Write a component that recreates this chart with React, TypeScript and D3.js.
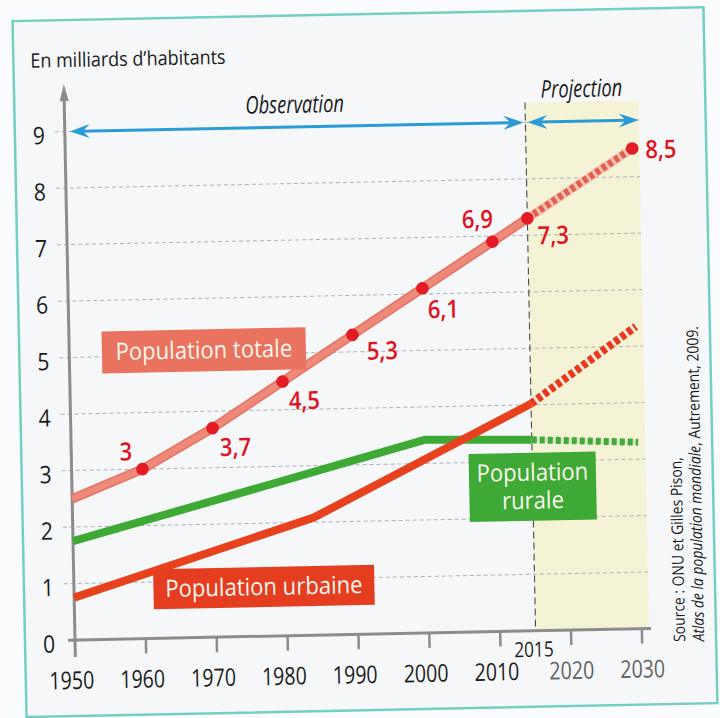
import React from "react";
import * as d3 from "d3";

const WIDTH = 720;
const HEIGHT = 718;
const FONT = "'Open Sans', 'Noto Sans', sans-serif";
const TILT = -1.15; // the scanned page is slightly tilted

// population mondiale, en milliards d'habitants
const totalYears = [1950, 1960, 1970, 1980, 1990, 2000, 2010, 2015];
const totalValues = [2.5, 3.0, 3.7, 4.5, 5.3, 6.1, 6.9, 7.3];
const totalProjYears = [2015, 2030];
const totalProjValues = [7.3, 8.5];

const dotYears = [1960, 1970, 1980, 1990, 2000, 2010, 2015, 2030];
const dotValues = [3.0, 3.7, 4.5, 5.3, 6.1, 6.9, 7.3, 8.5];
const dotLabels = ["3", "3,7", "4,5", "5,3", "6,1", "6,9", "7,3", "8,5"];

const ruralYears = [1950, 2000, 2015];
const ruralValues = [1.75, 3.42, 3.38];
const ruralProjYears = [2015, 2030];
const ruralProjValues = [3.38, 3.3];

const urbanYears = [1950, 1984, 2015];
const urbanValues = [0.75, 2.08, 4.02];
const urbanProjYears = [2015, 2030];
const urbanProjValues = [4.02, 5.35];

const yTicks = [0, 1, 2, 3, 4, 5, 6, 7, 8, 9];
const xTickYears = [1950, 1960, 1970, 1980, 1990, 2000, 2010, 2020, 2030];
const projStart = 2015;
const projEnd = 2031;

// where each value label sits around its dot (px)
const labelPos = [
  { dx: -10, dy: -9, anchor: "end" },
  { dx: 7, dy: 28, anchor: "start" },
  { dx: 6, dy: 28, anchor: "start" },
  { dx: 14, dy: 25, anchor: "start" },
  { dx: 5, dy: 30, anchor: "start" },
  { dx: 1, dy: -14, anchor: "end" },
  { dx: 10, dy: 26, anchor: "start" },
  { dx: 13, dy: 10, anchor: "start" },
];

const x = d3.scaleLinear().domain([1950, 2030]).range([75, 642]);
const y = d3.scaleLinear().domain([0, 9]).range([640, 131.5]);

const line = d3
  .line<[number, number]>()
  .x((d) => x(d[0]))
  .y((d) => y(d[1]));
const pts = (yrs: number[], vals: number[]) =>
  yrs.map((yr, i) => [yr, vals[i]] as [number, number]);

const T = ({ x, y, sx = 1, rot = 0, size, fill = "#1b1b1b", weight, italic, anchor = "start", children }: any) => (
  <text
    transform={`translate(${x},${y})${rot ? ` rotate(${rot})` : ""} scale(${sx},1)`}
    fontSize={size}
    fill={fill}
    fontWeight={weight}
    fontStyle={italic ? "italic" : undefined}
    textAnchor={anchor}
    fontFamily={FONT}
  >
    {children}
  </text>
);

const HEAD = "M0,0 L-20,-7 L-13,0 L-20,7 Z";

const Arrow = ({ x1, x2, yy }: { x1: number; x2: number; yy: number }) => (
  <g fill="#2b9bd6">
    <line x1={x1 + 10} x2={x2 - 10} y1={yy} y2={yy} stroke="#2b9bd6" strokeWidth={3} />
    <path d={HEAD} transform={`translate(${x2},${yy})`} />
    <path d={HEAD} transform={`translate(${x1},${yy}) rotate(180)`} />
  </g>
);

const Box = ({ year, value, w, h, fill, lines }: any) => {
  const cx = x(year);
  const cy = y(value);
  const n = lines.length;
  return (
    <g>
      <rect x={cx - w / 2} y={cy - h / 2} width={w} height={h} fill={fill} />
      {lines.map((t: string, i: number) => (
        <T key={t} x={cx} y={cy + 8 + (i - (n - 1) / 2) * 28} sx={0.92} size={24} fill="#fdf6ee" anchor="middle">
          {t}
        </T>
      ))}
    </g>
  );
};

export default function App() {
  const x0 = x(1950);
  const y0 = y(0);
  const gridTop = y(9.35);
  return (
    <svg
      width={WIDTH}
      height={HEIGHT}
      style={{ position: "absolute", left: 0, top: 0, background: "#fafbfc" }}
    >
      <g transform={`rotate(${TILT} ${x0} ${y0})`}>
        {/* frame */}
        <rect x={25} y={20} width={691} height={696} fill="#f5f7f9" stroke="#74cfc3" strokeWidth={2.5} />

        {/* projection zone */}
        <rect x={x(projStart)} y={gridTop} width={x(projEnd) - x(projStart)} height={y0 - gridTop} fill="#f5f3d6" />

        {/* grid */}
        {yTicks.slice(1).map((v) => (
          <line
            key={v}
            x1={x0 - 10}
            x2={x(projEnd)}
            y1={y(v)}
            y2={y(v)}
            stroke="#adb1b5"
            strokeWidth={1}
            strokeDasharray="4 3"
          />
        ))}
        <line x1={x(projStart)} x2={x(projStart)} y1={gridTop} y2={y0} stroke="#4a4a4a" strokeWidth={1.1} strokeDasharray="7 4" />

        {/* axes */}
        <line x1={x0} x2={x0} y1={y0 + 17} y2={y(9.84) + 12} stroke="#8c8c8c" strokeWidth={3} />
        <path d="M0,0 L-4.5,17 L4.5,17 Z" transform={`translate(${x0},${y(9.84)})`} fill="#8c8c8c" />
        <line x1={x0 - 7} x2={x(projEnd) + 2} y1={y0} y2={y0} stroke="#8c8c8c" strokeWidth={3} />
        {xTickYears.slice(1).map((yr) => (
          <line key={yr} x1={x(yr)} x2={x(yr)} y1={y0} y2={y0 + 15} stroke="#8c8c8c" strokeWidth={2.5} />
        ))}
        {xTickYears.map((yr) => (
          <T
            key={yr}
            x={x(yr) + (yr > projStart ? 0 : -4)}
            y={y0 + 49}
            sx={0.8}
            size={24.5}
            anchor="middle"
            fill={yr > projStart ? "#616161" : "#1b1b1b"}
          >
            {String(yr)}
          </T>
        ))}
        <T x={x(projStart) - 2} y={y0 + 26} sx={0.82} size={21} anchor="middle">
          {String(projStart)}
        </T>
        {yTicks.map((v) => (
          <T key={v} x={x0 - 20} y={y(v) + 12} sx={0.88} size={24} anchor="end">
            {String(v)}
          </T>
        ))}
        <T x={x0 - 33} y={67} sx={0.9} size={20}>
          En milliards d’habitants
        </T>

        {/* observation / projection arrows */}
        <Arrow x1={x0 + 5} x2={x(projStart) - 2} yy={y(9)} />
        <Arrow x1={x(projStart) + 2} x2={x(projEnd)} yy={y(9)} />
        <T x={(x0 + x(projStart)) / 2} y={y(9.25)} sx={0.75} size={24.5} italic anchor="middle">
          Observation
        </T>
        <T x={(x(projStart) + x(projEnd)) / 2} y={y(9.43)} sx={0.75} size={24.5} italic anchor="middle">
          Projection
        </T>

        {/* rural */}
        <path d={line(pts(ruralYears, ruralValues)) || ""} fill="none" stroke="#3eaa35" strokeWidth={8} strokeLinejoin="round" />
        <path d={line(pts(ruralProjYears, ruralProjValues)) || ""} fill="none" stroke="#d3eac6" strokeWidth={5} />
        <path d={line(pts(ruralProjYears, ruralProjValues)) || ""} fill="none" stroke="#45a83a" strokeWidth={7} strokeDasharray="5 3" />

        {/* urban */}
        <path d={line(pts(urbanYears, urbanValues)) || ""} fill="none" stroke="#e8411d" strokeWidth={8} strokeLinejoin="round" />
        <path d={line(pts(urbanProjYears, urbanProjValues)) || ""} fill="none" stroke="#fbe8dc" strokeWidth={6} />
        <path d={line(pts(urbanProjYears, urbanProjValues)) || ""} fill="none" stroke="#e8371b" strokeWidth={8} strokeDasharray="5 3" />

        {/* total */}
        <path d={line(pts(totalYears, totalValues)) || ""} fill="none" stroke="#e67767" strokeWidth={9.5} strokeLinejoin="round" />
        <path d={line(pts(totalYears, totalValues)) || ""} fill="none" stroke="#ee8a7a" strokeWidth={6} strokeLinejoin="round" />
        <path d={line(pts(totalProjYears, totalProjValues)) || ""} fill="none" stroke="#f5c2b5" strokeWidth={9} />
        <path d={line(pts(totalProjYears, totalProjValues)) || ""} fill="none" stroke="#e35f4d" strokeWidth={7} strokeDasharray="4.5 3" />

        {dotYears.map((yr, i) => (
          <g key={yr}>
            <circle cx={x(yr)} cy={y(dotValues[i])} r={6.3} fill="#e21b24" />
            <T
              x={x(yr) + labelPos[i].dx}
              y={y(dotValues[i]) + labelPos[i].dy}
              sx={0.88}
              size={25}
              weight={600}
              fill="#e0141f"
              anchor={labelPos[i].anchor}
            >
              {dotLabels[i]}
            </T>
          </g>
        ))}

        {/* series labels */}
        <Box year={1969} value={5.08} w={204} h={42} fill="#e9735f" lines={["Population totale"]} />
        <Box year={2015} value={2.55} w={127} h={68} fill="#3ea935" lines={["Population", "rurale"]} />
        <Box year={1976.8} value={0.87} w={221} h={40} fill="#e43d20" lines={["Population urbaine"]} />

        {/* source */}
        <T x={685} y={654} rot={-90} sx={0.87} size={16}>
          Source : ONU et Gilles Pison,
        </T>
        <text transform="translate(704,654) rotate(-90) scale(0.87,1)" fontSize={16} fill="#1b1b1b" fontFamily={FONT}>
          <tspan fontStyle="italic">Atlas de la population mondiale</tspan>
          <tspan>, Autrement, 2009.</tspan>
        </text>
      </g>
    </svg>
  );
}
